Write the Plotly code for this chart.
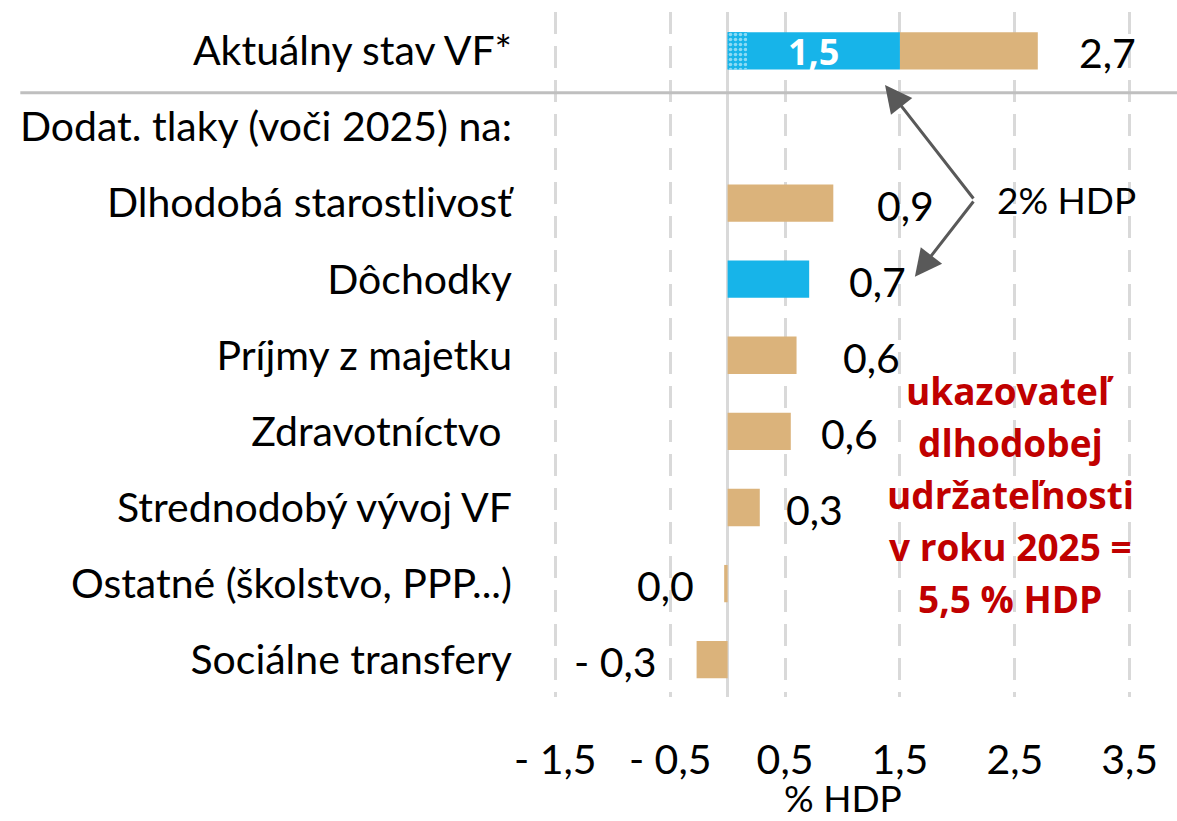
import plotly.graph_objects as go

# ---------------- data ----------------
categories = [
    "Aktuálny stav VF*",
    "Dodat. tlaky (voči 2025) na:",
    "Dlhodobá starostlivosť",
    "Dôchodky",
    "Príjmy z majetku",
    "Zdravotníctvo\u00a0",
    "Strednodobý vývoj VF",
    "Ostatné (školstvo, PPP...)",
    "Sociálne transfery",
]
# current state split
current_blue = 1.5       # blue part of the current state
current_total = 2.7      # total current state
current_dotted = 0.17    # dotted (hatched) part at the start of the blue bar

# additional pressures
pressure_cats = categories[2:]
pressure_vals = [0.92, 0.71, 0.6, 0.55, 0.28, -0.03, -0.27]
pressure_blue = [False, True, False, False, False, False, False]

x_tickvals = [-1.5, -0.5, 0.5, 1.5, 2.5, 3.5]
x_ticktext = ["- 1,5", "- 0,5", "0,5", "1,5", "2,5", "3,5"]

red_text = ["ukazovateľ", "dlhodobej", "udržateľnosti", "v roku 2025 =", "5,5 % HDP"]

# label placement tweaks (pixels), style only
label_dx = [39, 42, 38, 44, 28, 24, -28, -38]

BLUE = "#17B4E9"
TAN = "#DBB37B"
FONT = "Lato"
BOLD_FONT = "Open Sans"
FS = 41


def fmt(v):
    r = round(v, 1)
    if r == 0:
        return "0,0"
    s = f"{abs(r):.1f}".replace(".", ",")
    return ("- " + s) if r < 0 else s


fig = go.Figure()

# blue bars
blue_y = [categories[0]] + [c for c, b in zip(pressure_cats, pressure_blue) if b]
blue_x = [current_blue] + [v for v, b in zip(pressure_vals, pressure_blue) if b]
fig.add_trace(go.Bar(
    y=blue_y, x=blue_x, orientation="h", base=0, width=0.49,
    marker=dict(color=BLUE, line=dict(width=0)),
    hoverinfo="skip", showlegend=False,
))

# tan bars
tan_y = [categories[0]] + [c for c, b in zip(pressure_cats, pressure_blue) if not b]
tan_x = [current_total - current_blue] + [v for v, b in zip(pressure_vals, pressure_blue) if not b]
tan_base = [current_blue] + [0] * (len(tan_y) - 1)
fig.add_trace(go.Bar(
    y=tan_y, x=tan_x, orientation="h", base=tan_base, width=0.49,
    marker=dict(color=TAN, line=dict(width=0)),
    hoverinfo="skip", showlegend=False,
))

# dotted part
fig.add_trace(go.Bar(
    y=[categories[0]], x=[current_dotted], orientation="h", base=0, width=0.49,
    marker=dict(color=BLUE, line=dict(width=0),
                pattern=dict(shape=".", fgcolor="white", bgcolor=BLUE, size=5, solidity=0.4)),
    hoverinfo="skip", showlegend=False,
))

annotations = []
# white label inside the blue bar
annotations.append(dict(
    x=current_blue / 2, y=categories[0], xref="x", yref="y", text=fmt(current_blue),
    showarrow=False, xanchor="center", yanchor="middle", yshift=-1,
    font=dict(family=BOLD_FONT, size=36, color="white", weight="bold"),
))
# value labels
label_vals = [current_total] + pressure_vals
label_cats = [categories[0]] + pressure_cats
for c, v, dx in zip(label_cats, label_vals, label_dx):
    pos = round(v, 1) > 0
    annotations.append(dict(
        x=v, y=c, xref="x", yref="y", text=fmt(v), showarrow=False,
        xanchor="left" if pos else "right", xshift=dx, yshift=-2,
        font=dict(family=FONT, size=FS, color="black"),
    ))

# double arrow "2% HDP"
ARROW = "#595959"
vx, vy = 2.15, 1.96
for tx, ty in [(1.37, 0.45), (1.63, 2.97)]:
    annotations.append(dict(
        x=tx, y=ty, xref="x", yref="y", ax=vx, ay=vy, axref="x", ayref="y",
        text="", showarrow=True, arrowhead=2, arrowsize=1.8, arrowwidth=3,
        arrowcolor=ARROW, standoff=0, startstandoff=0,
    ))
annotations.append(dict(
    x=2.33, y=1.96, xref="x", yref="y", text="2% HDP", showarrow=False,
    xanchor="left", font=dict(family=FONT, size=37, color="black"),
))

# red sustainability text (one annotation per line for Excel-like line spacing)
n = len(red_text)
for i, line in enumerate(red_text):
    annotations.append(dict(
        x=2.46, y=5.83, xref="x", yref="y", text=line, showarrow=False,
        xanchor="center", yanchor="middle", yshift=((n - 1) / 2 - i) * 52,
        font=dict(family=BOLD_FONT, size=37, color="#C00000", weight="bold"),
    ))

# x-axis title
annotations.append(dict(
    x=0.5, y=0, xref="paper", yref="paper", text="% HDP", showarrow=False,
    xanchor="center", yanchor="middle", yshift=-100, borderpad=0,
    font=dict(family=FONT, size=37, color="black"),
))

fig.update_layout(
    width=1177, height=821,
    margin=dict(l=553, r=45, t=12, b=124),
    plot_bgcolor="white", paper_bgcolor="white",
    barmode="overlay",
    font=dict(family=FONT, size=FS, color="black"),
    annotations=annotations,
    shapes=[dict(type="line", xref="paper", yref="y", x0=-0.92, x1=1.08, y0=0.55, y1=0.55,
                 line=dict(color="#BFBFBF", width=3))],
)
fig.update_xaxes(
    range=[-1.52, 3.52], tickvals=x_tickvals, ticktext=x_ticktext,
    showgrid=True, gridcolor="#D9D9D9", gridwidth=3, griddash="22px,12px",
    zeroline=True, zerolinecolor="#D9D9D9", zerolinewidth=3,
    showline=False, ticks="", ticklabelstandoff=35,
    tickfont=dict(family=FONT, size=FS, color="black"),
)
fig.update_yaxes(
    type="category", categoryorder="array", categoryarray=categories,
    range=[8.49, -0.51], showgrid=False, zeroline=False, showline=False, ticks="",
    ticklabelstandoff=40, tickfont=dict(family=FONT, size=FS, color="black"),
)

fig.write_html("out.html", config={"displayModeBar": False},
               post_script="document.body.style.margin='0';")
